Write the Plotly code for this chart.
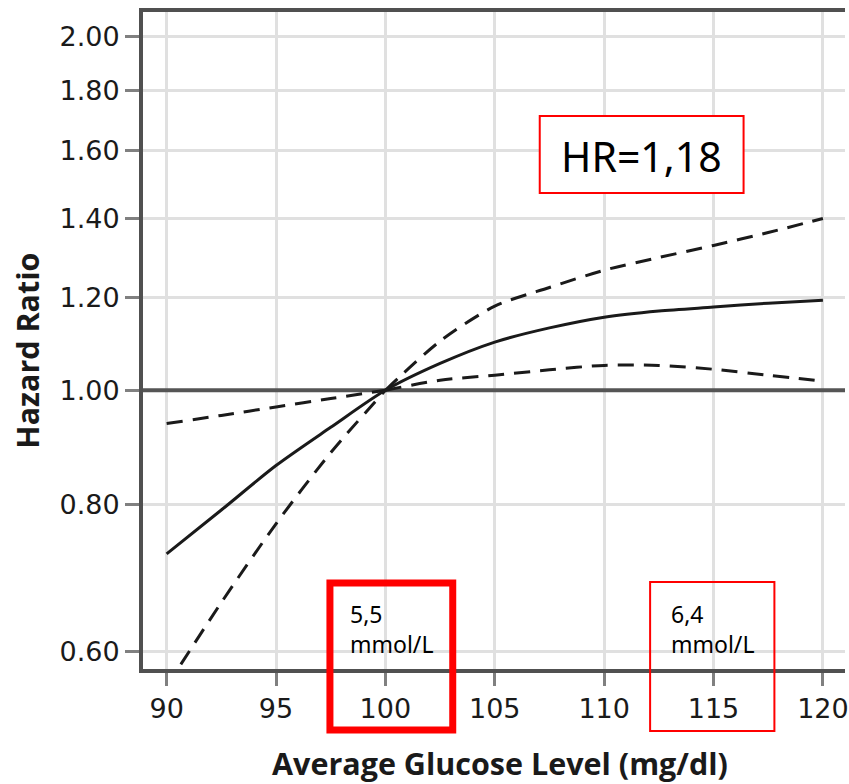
import plotly.graph_objects as go

# ---- data ----
glucose = [90, 92.5, 95, 97.5, 100, 102.5, 105, 107.5, 110, 112.5, 115, 117.5, 120]
hr_est = [0.726, 0.791, 0.863, 0.930, 1.0, 1.054, 1.099, 1.130, 1.154, 1.168, 1.177, 1.186, 1.193]
hr_upper = [0.937, 0.952, 0.968, 0.984, 1.0, 1.101, 1.179, 1.223, 1.265, 1.297, 1.328, 1.362, 1.400]
hr_lower = [0.56, 0.66, 0.77, 0.885, 1.0, 1.020, 1.030, 1.041, 1.050, 1.050, 1.042, 1.030, 1.018]
ref_hr = 1.0
ref_index = 4  # position of the reference glucose value (100 mg/dl)

x_ticks = [90, 95, 100, 105, 110, 115, 120]
y_ticks = [0.60, 0.80, 1.00, 1.20, 1.40, 1.60, 1.80, 2.00]
y_tick_text = ["0.60", "0.80", "1.00", "1.20", "1.40", "1.60", "1.80", "2.00"]

x_title = "Average Glucose Level (mg/dl)"
y_title = "Hazard Ratio"
hr_label = "HR=1,18"
box1_label = "5,5<br>mmol/L"
box2_label = "6,4<br>mmol/L"

# ---- layout geometry ----
W, H = 849, 784
ML, MR, MT, MB = 143, 0, 12, 115
PW, PH = W - ML - MR, H - MT - MB
x_range = [88.92, 121.01]
y_range = [-0.237, 0.3217]


def px(xp):
    return (xp - ML) / PW


def py(yp):
    return (H - MB - yp) / PH


fig = go.Figure()

fig.add_trace(go.Scatter(x=x_range, y=[ref_hr, ref_hr], mode="lines",
                         line=dict(color="#555555", width=4), hoverinfo="skip"))

dash_line = dict(color="#1a1a1a", width=3, dash="16px,10px", shape="spline", smoothing=0.8)
for ci in (hr_upper, hr_lower):
    fig.add_trace(go.Scatter(x=glucose[:ref_index + 1], y=ci[:ref_index + 1], mode="lines",
                             line=dash_line))
    fig.add_trace(go.Scatter(x=glucose[ref_index:], y=ci[ref_index:], mode="lines",
                             line=dash_line))

fig.add_trace(go.Scatter(x=glucose, y=hr_est, mode="lines",
                         line=dict(color="#1a1a1a", width=3, shape="spline", smoothing=0.8)))

tick_font = dict(family="DejaVu Sans", size=27, color="#1a1a1a")

fig.update_layout(
    width=W, height=H,
    margin=dict(l=ML, r=MR, t=MT, b=MB, pad=0),
    paper_bgcolor="white", plot_bgcolor="white",
    showlegend=False,
    xaxis=dict(range=x_range, tickvals=x_ticks, ticktext=[str(v) for v in x_ticks],
               showgrid=True, gridcolor="#e0e0e0", gridwidth=3,
               showline=True, linecolor="#505050", linewidth=4, mirror=True,
               ticks="outside", ticklen=13, tickwidth=3, tickcolor="#808080",
               tickfont=tick_font, zeroline=False, ticklabeloverflow="allow"),
    yaxis=dict(type="log", range=y_range, tickvals=y_ticks, ticktext=y_tick_text,
               showgrid=True, gridcolor="#e0e0e0", gridwidth=3,
               showline=True, linecolor="#505050", linewidth=4, mirror=False,
               ticks="outside", ticklen=14, tickwidth=3, tickcolor="#808080",
               tickfont=tick_font, zeroline=False, ticklabeloverflow="allow"),
)

title_font = dict(family="Open Sans", size=30.5, color="#1a1a1a", weight="bold")
fig.add_annotation(x=px(502), y=py(763), xref="paper", yref="paper", text=x_title,
                   showarrow=False, font=title_font, xanchor="center", yanchor="middle")
fig.add_annotation(x=px(26), y=py(351), xref="paper", yref="paper", text=y_title,
                   showarrow=False, font=title_font, textangle=-90,
                   xanchor="center", yanchor="middle")

# HR box
fig.add_shape(type="rect", xref="paper", yref="paper",
              x0=px(542), x1=px(747), y0=py(193), y1=py(116),
              line=dict(color="#ff0000", width=2), fillcolor="white", layer="above")
fig.add_annotation(x=px(644), y=py(156), xref="paper", yref="paper", text=hr_label,
                   showarrow=False, font=dict(family="Noto Sans", size=41, color="black"),
                   xanchor="center", yanchor="middle")

# mmol/L boxes
fig.add_shape(type="rect", xref="paper", yref="paper",
              x0=px(331), x1=px(454.5), y0=py(730), y1=py(583),
              line=dict(color="#ff0000", width=7), layer="above")
fig.add_shape(type="rect", xref="paper", yref="paper",
              x0=px(653), x1=px(778), y0=py(731), y1=py(582),
              line=dict(color="#ff0000", width=2), layer="above")
box_font = dict(family="Noto Sans", size=23, color="black")
fig.add_annotation(x=px(349), y=py(596), xref="paper", yref="paper", text=box1_label,
                   showarrow=False, font=box_font, xanchor="left", yanchor="top", align="left")
fig.add_annotation(x=px(672), y=py(596), xref="paper", yref="paper", text=box2_label,
                   showarrow=False, font=box_font, xanchor="left", yanchor="top", align="left")

fig.write_html("out.html", config={"displayModeBar": False},
               post_script=("document.documentElement.style.overflow='hidden';"
                            "document.body.style.margin='0';"
                            "document.body.style.overflow='hidden';"
                            "var gd=document.getElementById('{plot_id}');"
                            "gd.style.overflow='hidden';gd.style.width='849px';"
                            "gd.querySelectorAll('svg').forEach(function(s){s.style.overflow='hidden';});"))
